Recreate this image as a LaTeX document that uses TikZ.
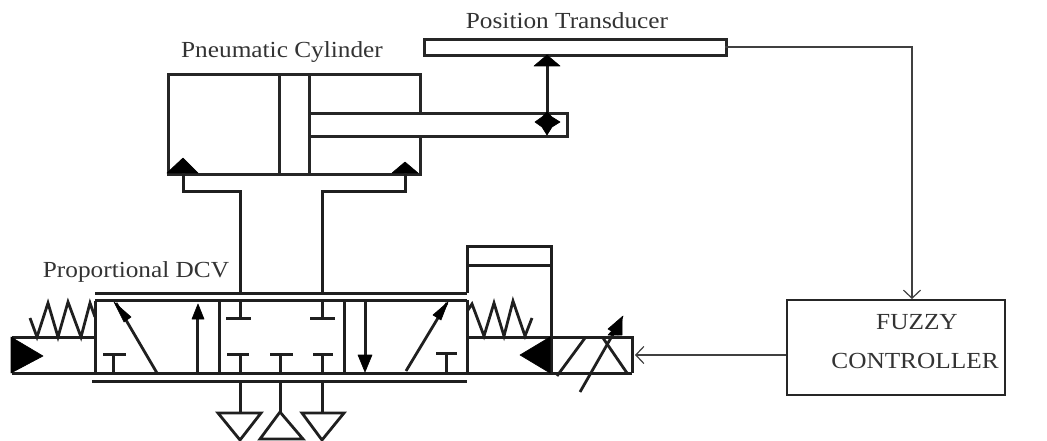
\documentclass[tikz,border=0pt]{standalone}
\usepackage{fontspec}
\setmainfont[FakeStretch=1.1]{Liberation Serif}
\usetikzlibrary{arrows.meta}
\tikzset{
  duct/.style={draw=black!88,line width=3pt,line join=miter,line cap=butt},
  slant/.style={draw=black!88,line width=2.8pt,line join=miter,line cap=butt},
  signal/.style={draw=black!75,line width=2pt,line join=miter},
  solid tip/.style={fill=black,draw=black,line width=.6pt,line join=round},
  lab/.style={inner sep=0pt,text=black!80,font=\fontsize{23}{26}\selectfont},
  box/.style={draw=black!85,line width=2.6pt,inner sep=0pt,anchor=north west},
  openarrow/.style={-{Straight Barb[length=8pt,width=17pt,line width=1.2pt]}}
}
\begin{document}
\begin{tikzpicture}[x=1pt,y=-1pt]
\useasboundingbox (0,0) rectangle (1047,441);
% cylinder
\node[box,minimum width=252pt,minimum height=100pt] (cyl) at (167,73) {};
\node[box,minimum width=30pt,minimum height=100pt] (piston) at (278,73) {};
\node[box,fill=white,minimum width=258pt,minimum height=23pt] (rod) at (308,112) {};
\node[box,minimum width=302pt,minimum height=16pt] (trans) at (423,38) {};
\node[box,minimum width=218pt,minimum height=95pt,line width=2pt] (ctrl) at (786,299) {};
\node[lab] (lcyl) at (282,52) {Pneumatic Cylinder};
\node[lab] (ltrans) at (567,21) {Position Transducer};
\node[lab] (ldcv) at (136,272) {Proportional DCV};
\node[lab] (lf) at (917,322) {FUZZY};
\node[lab] (lc) at (915,361) {CONTROLLER};
% cylinder ports
\path[solid tip] (167,173)--(183,158)--(198,173)--cycle;
\path[solid tip] (392,173)--(405,162)--(418,173)--cycle;
\coordinate (v1) at (240,293);
\coordinate (v2) at (322,293);
\path[duct] (183,173)--(183,191)--(240,191)--(v1);
\path[duct] (405,173)--(405,191)--(322,191)--(v2);
% transducer link
\path[duct] (547,54)--(547,132);
\path[solid tip] (534,66)--(547,55)--(560,66)--cycle;
\path[solid tip] (547,112)--(552,117)--(560,122)--(552,127)--(547,135)--(542,127)--(535,122)--(542,117)--cycle;
% signal lines
\coordinate (t1) at (725,47.5);
\coordinate (t2) at (912,47.5);
\draw[signal,openarrow] (t1)--(t2)--(ctrl.north-|t2);
\coordinate (s1) at (635,355);
\draw[signal,openarrow] (ctrl.west|-s1)--(s1);
% valve body
\path[duct] (95,293)--(467,293);
\path[duct] (92,381)--(467,381);
\path[duct] (95,300.5)--(467,300.5);
\path[duct] (12,373)--(632,373);
\path[duct] (95,300.5)--(95,373);
\path[duct] (219,300.5)--(219,373);
\path[duct] (344,300.5)--(344,373);
% left actuator
\path[duct] (12,337)--(95,337);
\path[solid tip] (11,337)--(43,356)--(11,373)--cycle;
\path[slant] (30,318)--(37,337)--(48,303)--(58,337)--(68,302)--(81,337)--(90,303)--(95,317);
% left cell
\path[slant] (157,373)--(116,303);
\path[solid tip] (114,302)--(131,317)--(124,322)--cycle;
\path[duct] (113,373)--(113,354) (103,354)--(126,354);
\path[duct] (197,373)--(197,310);
\path[solid tip] (192,319)--(198,304)--(204,319)--cycle;
% center cell
\path[duct] (240,300)--(240,318) (226,318)--(251,318);
\path[duct] (322,300)--(322,318) (310,318)--(335,318);
\path[duct] (240,373)--(240,354) (227,354)--(249,354);
\path[duct] (280,373)--(280,354) (270,354)--(293,354);
\path[duct] (322,373)--(322,354) (313,354)--(333,354);
% exhaust
\path[duct] (240,381)--(240,413);
\path[duct] (280,381)--(280,412);
\path[duct] (322,381)--(322,413);
\path[slant] (218,413)--(261,413)--(240,440)--cycle;
\path[slant] (280,412)--(260,439)--(303,439)--cycle;
\path[slant] (302,413)--(344,413)--(322,440)--cycle;
% right cell
\path[duct] (365,300)--(365,365);
\path[solid tip] (358,355)--(372,355)--(365,372)--cycle;
\path[slant] (406,371)--(447,303);
\path[solid tip] (448,302)--(441,320)--(433,315)--cycle;
\path[duct] (446,373)--(446,353) (436,353)--(457,353);
% right actuator
\path[duct] (467,293)--(467,246)--(551,246)--(551,373);
\path[duct] (467,265)--(551,265);
\path[duct] (467,300)--(467,373);
\path[duct] (551,337)--(467,337);
\path[slant] (468,310)--(472,304)--(484,336)--(494,303)--(504,336)--(513,301)--(525,336)--(532,318);
\path[solid tip] (550,337)--(520,355)--(550,373)--cycle;
% solenoid
\path[duct] (551,337)--(632,337)--(632,373);
\path[slant] (557,376)--(585,338);
\path[slant] (603,338)--(627,373);
\path[slant] (580,392)--(620,322);
\path[solid tip] (623,316)--(618,335)--(608,329)--cycle;
\path[solid tip] (608,335)--(622,335)--(622,320)--cycle;
\end{tikzpicture}
\end{document}
